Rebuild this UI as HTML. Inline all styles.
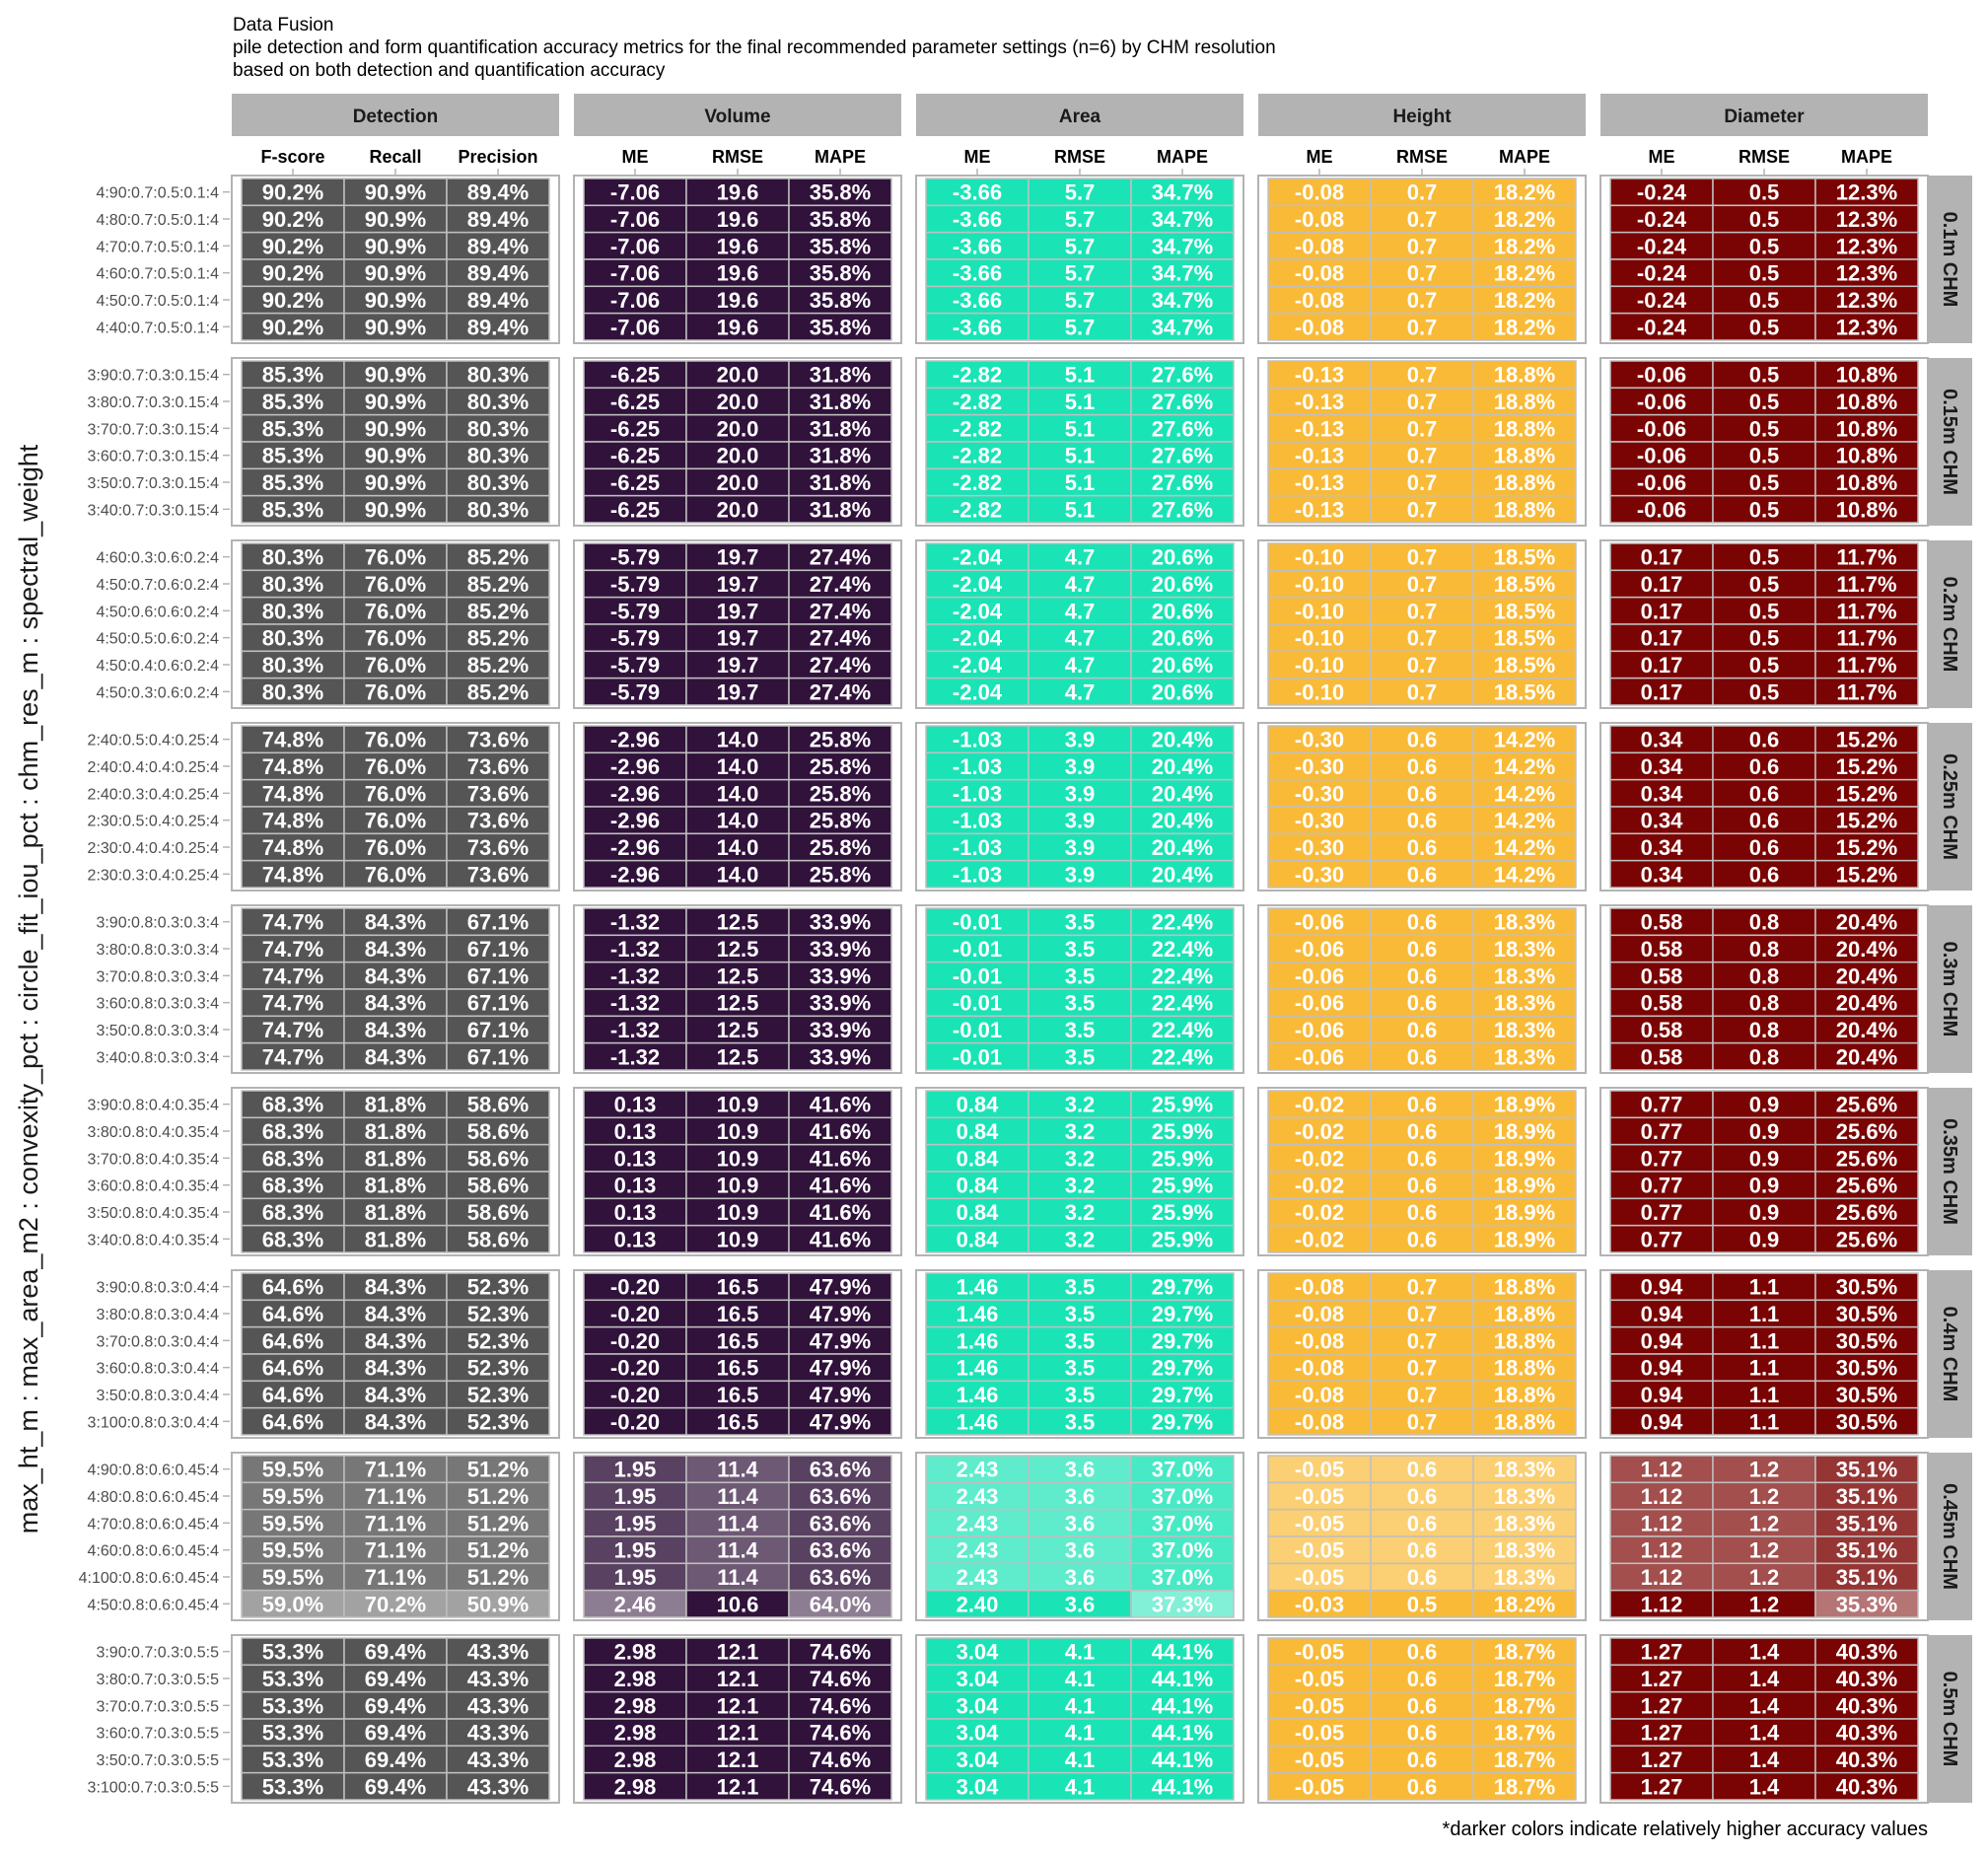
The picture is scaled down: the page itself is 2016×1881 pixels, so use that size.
<!DOCTYPE html>
<html><head><meta charset="utf-8">
<style>
body{margin:0;background:#fff;}
svg{display:block;font-family:"Liberation Sans",Arial,sans-serif;}
</style></head>
<body>
<svg id="chart" width="2016" height="1881" viewBox="0 0 2016 1881" xmlns="http://www.w3.org/2000/svg">
<g font-size="19" fill="#000">
<text x="236" y="31">Data Fusion</text>
<text x="236" y="54">pile detection and form quantification accuracy metrics for the final recommended parameter settings (n=6) by CHM resolution</text>
<text x="236" y="77">based on both detection and quantification accuracy</text>
</g>
<text transform="translate(38,1003) rotate(-90)" text-anchor="middle" font-size="27" fill="#1a1a1a">max_ht_m : max_area_m2 : convexity_pct : circle_fit_iou_pct : chm_res_m : spectral_weight</text>
<text x="1955" y="1861" text-anchor="end" font-size="20" fill="#000">*darker colors indicate relatively higher accuracy values</text>
<g id="plot"></g>
</svg>
<script>
const groups = ["Detection","Volume","Area","Height","Diameter"];
const metricNames = [["F-score","Recall","Precision"],["ME","RMSE","MAPE"],["ME","RMSE","MAPE"],["ME","RMSE","MAPE"],["ME","RMSE","MAPE"]];
const chmLabels = ["0.1m CHM","0.15m CHM","0.2m CHM","0.25m CHM","0.3m CHM","0.35m CHM","0.4m CHM","0.45m CHM","0.5m CHM"];
const rowLabels = [
["4:90:0.7:0.5:0.1:4","4:80:0.7:0.5:0.1:4","4:70:0.7:0.5:0.1:4","4:60:0.7:0.5:0.1:4","4:50:0.7:0.5:0.1:4","4:40:0.7:0.5:0.1:4"],
["3:90:0.7:0.3:0.15:4","3:80:0.7:0.3:0.15:4","3:70:0.7:0.3:0.15:4","3:60:0.7:0.3:0.15:4","3:50:0.7:0.3:0.15:4","3:40:0.7:0.3:0.15:4"],
["4:60:0.3:0.6:0.2:4","4:50:0.7:0.6:0.2:4","4:50:0.6:0.6:0.2:4","4:50:0.5:0.6:0.2:4","4:50:0.4:0.6:0.2:4","4:50:0.3:0.6:0.2:4"],
["2:40:0.5:0.4:0.25:4","2:40:0.4:0.4:0.25:4","2:40:0.3:0.4:0.25:4","2:30:0.5:0.4:0.25:4","2:30:0.4:0.4:0.25:4","2:30:0.3:0.4:0.25:4"],
["3:90:0.8:0.3:0.3:4","3:80:0.8:0.3:0.3:4","3:70:0.8:0.3:0.3:4","3:60:0.8:0.3:0.3:4","3:50:0.8:0.3:0.3:4","3:40:0.8:0.3:0.3:4"],
["3:90:0.8:0.4:0.35:4","3:80:0.8:0.4:0.35:4","3:70:0.8:0.4:0.35:4","3:60:0.8:0.4:0.35:4","3:50:0.8:0.4:0.35:4","3:40:0.8:0.4:0.35:4"],
["3:90:0.8:0.3:0.4:4","3:80:0.8:0.3:0.4:4","3:70:0.8:0.3:0.4:4","3:60:0.8:0.3:0.4:4","3:50:0.8:0.3:0.4:4","3:100:0.8:0.3:0.4:4"],
["4:90:0.8:0.6:0.45:4","4:80:0.8:0.6:0.45:4","4:70:0.8:0.6:0.45:4","4:60:0.8:0.6:0.45:4","4:100:0.8:0.6:0.45:4","4:50:0.8:0.6:0.45:4"],
["3:90:0.7:0.3:0.5:5","3:80:0.7:0.3:0.5:5","3:70:0.7:0.3:0.5:5","3:60:0.7:0.3:0.5:5","3:50:0.7:0.3:0.5:5","3:100:0.7:0.3:0.5:5"]];
// Detection
const fscore=[[90.2,90.2,90.2,90.2,90.2,90.2],[85.3,85.3,85.3,85.3,85.3,85.3],[80.3,80.3,80.3,80.3,80.3,80.3],[74.8,74.8,74.8,74.8,74.8,74.8],[74.7,74.7,74.7,74.7,74.7,74.7],[68.3,68.3,68.3,68.3,68.3,68.3],[64.6,64.6,64.6,64.6,64.6,64.6],[59.5,59.5,59.5,59.5,59.5,59.0],[53.3,53.3,53.3,53.3,53.3,53.3]];
const recall=[[90.9,90.9,90.9,90.9,90.9,90.9],[90.9,90.9,90.9,90.9,90.9,90.9],[76.0,76.0,76.0,76.0,76.0,76.0],[76.0,76.0,76.0,76.0,76.0,76.0],[84.3,84.3,84.3,84.3,84.3,84.3],[81.8,81.8,81.8,81.8,81.8,81.8],[84.3,84.3,84.3,84.3,84.3,84.3],[71.1,71.1,71.1,71.1,71.1,70.2],[69.4,69.4,69.4,69.4,69.4,69.4]];
const precision=[[89.4,89.4,89.4,89.4,89.4,89.4],[80.3,80.3,80.3,80.3,80.3,80.3],[85.2,85.2,85.2,85.2,85.2,85.2],[73.6,73.6,73.6,73.6,73.6,73.6],[67.1,67.1,67.1,67.1,67.1,67.1],[58.6,58.6,58.6,58.6,58.6,58.6],[52.3,52.3,52.3,52.3,52.3,52.3],[51.2,51.2,51.2,51.2,51.2,50.9],[43.3,43.3,43.3,43.3,43.3,43.3]];
// Volume
const volME=[[-7.06,-7.06,-7.06,-7.06,-7.06,-7.06],[-6.25,-6.25,-6.25,-6.25,-6.25,-6.25],[-5.79,-5.79,-5.79,-5.79,-5.79,-5.79],[-2.96,-2.96,-2.96,-2.96,-2.96,-2.96],[-1.32,-1.32,-1.32,-1.32,-1.32,-1.32],[0.13,0.13,0.13,0.13,0.13,0.13],[-0.20,-0.20,-0.20,-0.20,-0.20,-0.20],[1.95,1.95,1.95,1.95,1.95,2.46],[2.98,2.98,2.98,2.98,2.98,2.98]];
const volRMSE=[[19.6,19.6,19.6,19.6,19.6,19.6],[20.0,20.0,20.0,20.0,20.0,20.0],[19.7,19.7,19.7,19.7,19.7,19.7],[14.0,14.0,14.0,14.0,14.0,14.0],[12.5,12.5,12.5,12.5,12.5,12.5],[10.9,10.9,10.9,10.9,10.9,10.9],[16.5,16.5,16.5,16.5,16.5,16.5],[11.4,11.4,11.4,11.4,11.4,10.6],[12.1,12.1,12.1,12.1,12.1,12.1]];
const volMAPE=[[35.8,35.8,35.8,35.8,35.8,35.8],[31.8,31.8,31.8,31.8,31.8,31.8],[27.4,27.4,27.4,27.4,27.4,27.4],[25.8,25.8,25.8,25.8,25.8,25.8],[33.9,33.9,33.9,33.9,33.9,33.9],[41.6,41.6,41.6,41.6,41.6,41.6],[47.9,47.9,47.9,47.9,47.9,47.9],[63.6,63.6,63.6,63.6,63.6,64.0],[74.6,74.6,74.6,74.6,74.6,74.6]];
// Area
const areaME=[[-3.66,-3.66,-3.66,-3.66,-3.66,-3.66],[-2.82,-2.82,-2.82,-2.82,-2.82,-2.82],[-2.04,-2.04,-2.04,-2.04,-2.04,-2.04],[-1.03,-1.03,-1.03,-1.03,-1.03,-1.03],[-0.01,-0.01,-0.01,-0.01,-0.01,-0.01],[0.84,0.84,0.84,0.84,0.84,0.84],[1.46,1.46,1.46,1.46,1.46,1.46],[2.43,2.43,2.43,2.43,2.43,2.40],[3.04,3.04,3.04,3.04,3.04,3.04]];
const areaRMSE=[[5.7,5.7,5.7,5.7,5.7,5.7],[5.1,5.1,5.1,5.1,5.1,5.1],[4.7,4.7,4.7,4.7,4.7,4.7],[3.9,3.9,3.9,3.9,3.9,3.9],[3.5,3.5,3.5,3.5,3.5,3.5],[3.2,3.2,3.2,3.2,3.2,3.2],[3.5,3.5,3.5,3.5,3.5,3.5],[3.62,3.62,3.62,3.62,3.62,3.58],[4.1,4.1,4.1,4.1,4.1,4.1]];
const areaMAPE=[[34.7,34.7,34.7,34.7,34.7,34.7],[27.6,27.6,27.6,27.6,27.6,27.6],[20.6,20.6,20.6,20.6,20.6,20.6],[20.4,20.4,20.4,20.4,20.4,20.4],[22.4,22.4,22.4,22.4,22.4,22.4],[25.9,25.9,25.9,25.9,25.9,25.9],[29.7,29.7,29.7,29.7,29.7,29.7],[37.0,37.0,37.0,37.0,37.0,37.3],[44.1,44.1,44.1,44.1,44.1,44.1]];
// Height
const htME=[[-0.08,-0.08,-0.08,-0.08,-0.08,-0.08],[-0.13,-0.13,-0.13,-0.13,-0.13,-0.13],[-0.10,-0.10,-0.10,-0.10,-0.10,-0.10],[-0.30,-0.30,-0.30,-0.30,-0.30,-0.30],[-0.06,-0.06,-0.06,-0.06,-0.06,-0.06],[-0.02,-0.02,-0.02,-0.02,-0.02,-0.02],[-0.08,-0.08,-0.08,-0.08,-0.08,-0.08],[-0.05,-0.05,-0.05,-0.05,-0.05,-0.03],[-0.05,-0.05,-0.05,-0.05,-0.05,-0.05]];
const htRMSE=[[0.7,0.7,0.7,0.7,0.7,0.7],[0.7,0.7,0.7,0.7,0.7,0.7],[0.7,0.7,0.7,0.7,0.7,0.7],[0.6,0.6,0.6,0.6,0.6,0.6],[0.6,0.6,0.6,0.6,0.6,0.6],[0.6,0.6,0.6,0.6,0.6,0.6],[0.7,0.7,0.7,0.7,0.7,0.7],[0.6,0.6,0.6,0.6,0.6,0.5],[0.6,0.6,0.6,0.6,0.6,0.6]];
const htMAPE=[[18.2,18.2,18.2,18.2,18.2,18.2],[18.8,18.8,18.8,18.8,18.8,18.8],[18.5,18.5,18.5,18.5,18.5,18.5],[14.2,14.2,14.2,14.2,14.2,14.2],[18.3,18.3,18.3,18.3,18.3,18.3],[18.9,18.9,18.9,18.9,18.9,18.9],[18.8,18.8,18.8,18.8,18.8,18.8],[18.3,18.3,18.3,18.3,18.3,18.2],[18.7,18.7,18.7,18.7,18.7,18.7]];
// Diameter
const diaME=[[-0.24,-0.24,-0.24,-0.24,-0.24,-0.24],[-0.06,-0.06,-0.06,-0.06,-0.06,-0.06],[0.17,0.17,0.17,0.17,0.17,0.17],[0.34,0.34,0.34,0.34,0.34,0.34],[0.58,0.58,0.58,0.58,0.58,0.58],[0.77,0.77,0.77,0.77,0.77,0.77],[0.94,0.94,0.94,0.94,0.94,0.94],[1.124,1.124,1.124,1.124,1.124,1.118],[1.27,1.27,1.27,1.27,1.27,1.27]];
const diaRMSE=[[0.5,0.5,0.5,0.5,0.5,0.5],[0.5,0.5,0.5,0.5,0.5,0.5],[0.5,0.5,0.5,0.5,0.5,0.5],[0.6,0.6,0.6,0.6,0.6,0.6],[0.8,0.8,0.8,0.8,0.8,0.8],[0.9,0.9,0.9,0.9,0.9,0.9],[1.1,1.1,1.1,1.1,1.1,1.1],[1.21,1.21,1.21,1.21,1.21,1.19],[1.4,1.4,1.4,1.4,1.4,1.4]];
const diaMAPE=[[12.3,12.3,12.3,12.3,12.3,12.3],[10.8,10.8,10.8,10.8,10.8,10.8],[11.7,11.7,11.7,11.7,11.7,11.7],[15.2,15.2,15.2,15.2,15.2,15.2],[20.4,20.4,20.4,20.4,20.4,20.4],[25.6,25.6,25.6,25.6,25.6,25.6],[30.5,30.5,30.5,30.5,30.5,30.5],[35.1,35.1,35.1,35.1,35.1,35.3],[40.3,40.3,40.3,40.3,40.3,40.3]];

const series=[[fscore,recall,precision],[volME,volRMSE,volMAPE],[areaME,areaRMSE,areaMAPE],[htME,htRMSE,htMAPE],[diaME,diaRMSE,diaMAPE]];
const kinds=[["pct","pct","pct"],["me","rmse","pct"],["me","rmse","pct"],["me","rmse","pct"],["me","rmse","pct"]];
const higherBetter=[true,false,false,false,false];
const colors=["#555555","#30123b","#1ae4b6","#f9ba38","#7a0403"];

const NS="http://www.w3.org/2000/svg";
const plot=document.getElementById('plot');
function mk(tag,attrs,parent){const e=document.createElementNS(NS,tag);for(const k in attrs)e.setAttribute(k,attrs[k]);(parent||plot).appendChild(e);return e;}
// axis functions
const panelX0=235, panelPitch=347, panelW=332, padX=10;
const panelY0=178, blockPitch=185, panelH=170, padY=3;
const cellW=(panelW-2*padX)/3, cellH=(panelH-2*padY)/6;
function xPanel(g){return panelX0+g*panelPitch;}
function xCell(g,m){return xPanel(g)+padX+m*cellW;}
function yPanel(b){return panelY0+b*blockPitch;}
function yCell(b,r){return yPanel(b)+padY+r*cellH;}
function fmt(v,k){ if(k==="pct") return v.toFixed(1)+"%"; if(k==="me") return v.toFixed(2); return v.toFixed(1); }
function score(v,g,m){ if(kinds[g][m]==="me") return -Math.abs(v); return higherBetter[g]?v:-v; }
function alphaFor(arr,g,m,r){
  const sc=arr.map(v=>score(v,g,m)); const s=sc[r];
  const best=Math.max(...sc), worst=Math.min(...sc);
  if(best===worst) return 1;
  const cnt=sc.filter(x=>x===s).length;
  if(s===best) return cnt===1?1:0.8;
  if(s===worst && cnt===1) return 0.55;
  return 0.7;
}
// group strips and headers
groups.forEach((gname,g)=>{
  const st=mk('rect',{x:xPanel(g),y:95,width:panelW,height:43,fill:'#b3b3b3'});
  
  
  const t=mk('text',{x:xPanel(g)+panelW/2,y:124,'text-anchor':'middle','font-size':19,'font-weight':'bold',fill:'#1a1a1a'});
  t.textContent=gname;
  
  
  metricNames[g].forEach((mn,m)=>{
    const cx=xCell(g,m)+cellW/2;
    const h=mk('text',{x:cx,y:165,'text-anchor':'middle','font-size':18,'font-weight':'bold',fill:'#000'});
    h.textContent=mn;
    
    
    const tk=mk('line',{x1:cx,x2:cx,y1:171,y2:178,stroke:'#b3b3b3','stroke-width':1.5});
    
    
  });
});
// blocks
chmLabels.forEach((lab,b)=>{
  const rs=mk('rect',{x:1956,y:yPanel(b),width:44,height:panelH,fill:'#b3b3b3'});
  
  
  const rt=mk('text',{transform:`translate(1971,${yPanel(b)+panelH/2}) rotate(90)`,'text-anchor':'middle','font-size':20,'font-weight':'bold',fill:'#1a1a1a'});
  rt.textContent=lab;
  
  
  rowLabels[b].forEach((rl,r)=>{
    const cy=yCell(b,r)+cellH/2;
    const t=mk('text',{x:222,y:cy+6,'text-anchor':'end','font-size':16,fill:'#4d4d4d'});
    t.textContent=rl;
    
    
    const tk=mk('line',{x1:226,x2:233,y1:cy,y2:cy,stroke:'#b3b3b3','stroke-width':1.5});
    
    
  });
  groups.forEach((gname,g)=>{
    const pb=mk('rect',{x:xPanel(g),y:yPanel(b),width:panelW,height:panelH,fill:'#fff',stroke:'#b3b3b3','stroke-width':2});
    
    
    series[g].forEach((arrs,m)=>{
      const arr=arrs[b];
      arr.forEach((v,r)=>{
        const c=mk('rect',{x:xCell(g,m),y:yCell(b,r),width:cellW,height:cellH,fill:colors[g],'fill-opacity':alphaFor(arr,g,m,r),stroke:'#c0c0c0','stroke-width':1.5});
        
        
        const t=mk('text',{x:xCell(g,m)+cellW/2,y:yCell(b,r)+cellH/2+8,'text-anchor':'middle','font-size':22,'font-weight':'bold',fill:'#fff'});
        t.textContent=fmt(v,kinds[g][m]);
        
        
      });
    });
  });
});
</script>
</body></html>
